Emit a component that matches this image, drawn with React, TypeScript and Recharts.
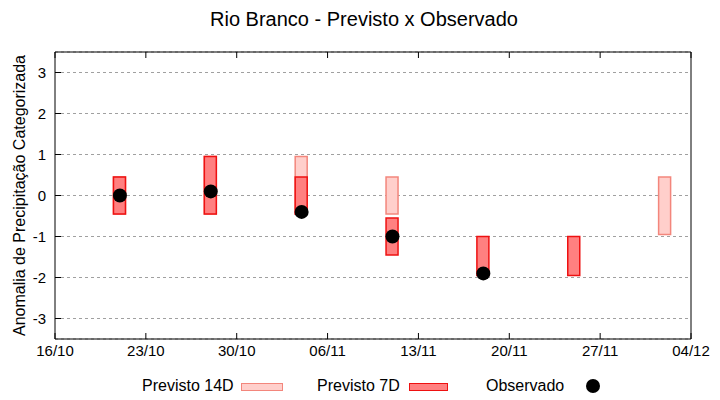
import React from 'react';
import {
  ComposedChart,
  Bar,
  Scatter,
  XAxis,
  YAxis,
  CartesianGrid,
  Legend,
} from 'recharts';

// dias com previsão / observação
const dates = ['21/10', '28/10', '04/11', '11/11', '18/11', '25/11', '02/12'];
const prev14Low = [-0.45, -0.45, -0.45, -0.45, null, null, -0.95];
const prev14High = [0.45, 0.95, 0.95, 0.45, null, null, 0.45];
const prev7Low = [-0.45, -0.45, -0.45, -1.45, -1.95, -1.95, null];
const prev7High = [0.45, 0.95, 0.45, -0.55, -1, -1, null];
const observed = [0, 0.1, -0.4, -1, -1.9, null, null];

const xTickLabels = ['16/10', '23/10', '30/10', '06/11', '13/11', '20/11', '27/11', '04/12'];
const yTicks = [-3, -2, -1, 0, 1, 2, 3];

const FONT = '"Liberation Sans", Arial, sans-serif';

const dayOf = (s: string) => {
  const [d, m] = s.split('/').map(Number);
  return (Date.UTC(2000, m - 1, d) - Date.UTC(2000, 9, 16)) / 86400000;
};

const xTicks = xTickLabels.map(dayOf);
const labelOf: Record<number, string> = {};
xTickLabels.forEach((l) => (labelOf[dayOf(l)] = l));

const data = dates.map((d, i) => ({
  x: dayOf(d),
  r14: prev14Low[i] == null ? null : [prev14Low[i], prev14High[i]],
  r7: prev7Low[i] == null ? null : [prev7Low[i], prev7High[i]],
}));

const obsData = dates
  .map((d, i) => ({ x: dayOf(d), y: observed[i] }))
  .filter((p) => p.y != null);

const C14_FILL = '#ffcfcb';
const C14_STROKE = '#f3867c';
const C7_FILL = '#ff8080';
const C7_STROKE = '#ee1111';

const tickStyle = { fill: '#000', fontSize: 15, fontFamily: FONT };

function LegendBox() {
  const txt: React.CSSProperties = {
    position: 'absolute',
    top: 7,
    fontSize: 16,
    fontFamily: FONT,
    color: '#000',
    lineHeight: '20px',
  };
  return (
    <div style={{ position: 'relative', width: 720, height: 31 }}>
      <span style={{ ...txt, left: 142 }}>Previsto 14D</span>
      <div style={{ position: 'absolute', left: 241, top: 14, width: 40, height: 6, background: C14_FILL, border: `1px solid ${C14_STROKE}` }} />
      <span style={{ ...txt, left: 317 }}>Previsto 7D</span>
      <div style={{ position: 'absolute', left: 409, top: 14, width: 37, height: 6, background: C7_FILL, border: `1px solid ${C7_STROKE}` }} />
      <span style={{ ...txt, left: 486 }}>Observado</span>
      <div style={{ position: 'absolute', left: 586, top: 10, width: 14, height: 14, borderRadius: 7, background: '#000' }} />
    </div>
  );
}

export default function App() {
  return (
    <div style={{ position: 'absolute', left: 0, top: 0, width: 720, height: 400, background: '#fff' }}>
      <div
        style={{
          position: 'absolute',
          top: 8,
          left: 4,
          width: 720,
          textAlign: 'center',
          fontFamily: FONT,
          fontSize: 20,
          color: '#000',
        }}
      >
        Rio Branco - Previsto x Observado
      </div>
      <ComposedChart
        width={720}
        height={400}
        data={data}
        margin={{ top: 51, right: 28, bottom: 0, left: 20 }}
      >
        <CartesianGrid
          xAxisId="main"
          yAxisId="left"
          vertical={false}
          stroke="#a0a0a0"
          strokeDasharray="3 3"
        />
        <XAxis
          xAxisId="main"
          dataKey="x"
          type="number"
          domain={[0, 49]}
          ticks={xTicks}
          tickFormatter={(v) => labelOf[v] ?? ''}
          height={30}
          tickSize={-6}
          tickMargin={12}
          axisLine={{ stroke: '#000' }}
          tickLine={{ stroke: '#000' }}
          tick={tickStyle}
          interval={0}
        />
        <XAxis xAxisId="b14" dataKey="x" type="number" domain={[0, 49]} height={0} hide />
        <XAxis
          xAxisId="top"
          orientation="top"
          dataKey="x"
          type="number"
          domain={[0, 49]}
          ticks={xTicks}
          tickFormatter={() => ''}
          height={1}
          tickSize={-6}
          axisLine={{ stroke: '#000' }}
          tickLine={{ stroke: '#000' }}
          interval={0}
        />
        <YAxis
          yAxisId="left"
          type="number"
          domain={[-3.5, 3.5]}
          ticks={yTicks}
          width={35}
          tickSize={-6}
          tickMargin={15}
          axisLine={{ stroke: '#000' }}
          tickLine={{ stroke: '#000' }}
          tick={tickStyle}
          interval={0}
          label={{
            value: 'Anomalia de Precipitação Categorizada',
            angle: -90,
            position: 'insideLeft',
            offset: 0,
            dx: -1,
            dy: 0,
            style: { textAnchor: 'middle', fill: '#000', fontSize: 16, fontFamily: FONT },
          }}
        />
        <YAxis
          yAxisId="right"
          orientation="right"
          type="number"
          domain={[-3.5, 3.5]}
          ticks={yTicks}
          width={1}
          tickSize={-6}
          tickFormatter={() => ''}
          axisLine={{ stroke: '#000' }}
          tickLine={{ stroke: '#000' }}
          interval={0}
        />
        <Bar
          xAxisId="b14"
          yAxisId="left"
          dataKey="r14"
          barSize={12}
          fill={C14_FILL}
          stroke={C14_STROKE}
          strokeWidth={1.5}
          isAnimationActive={false}
        />
        <Bar
          xAxisId="main"
          yAxisId="left"
          dataKey="r7"
          barSize={12}
          fill={C7_FILL}
          stroke={C7_STROKE}
          strokeWidth={1.5}
          isAnimationActive={false}
        />
        <Scatter
          xAxisId="main"
          yAxisId="left"
          data={obsData}
          dataKey="y"
          fill="#000"
          shape={(p: any) => <circle cx={p.cx} cy={p.cy} r={7} fill="#000" />}
          isAnimationActive={false}
        />
        <Legend
          verticalAlign="bottom"
          content={() => <LegendBox />}
          wrapperStyle={{ left: 0, width: 720 }}
        />
      </ComposedChart>
    </div>
  );
}
